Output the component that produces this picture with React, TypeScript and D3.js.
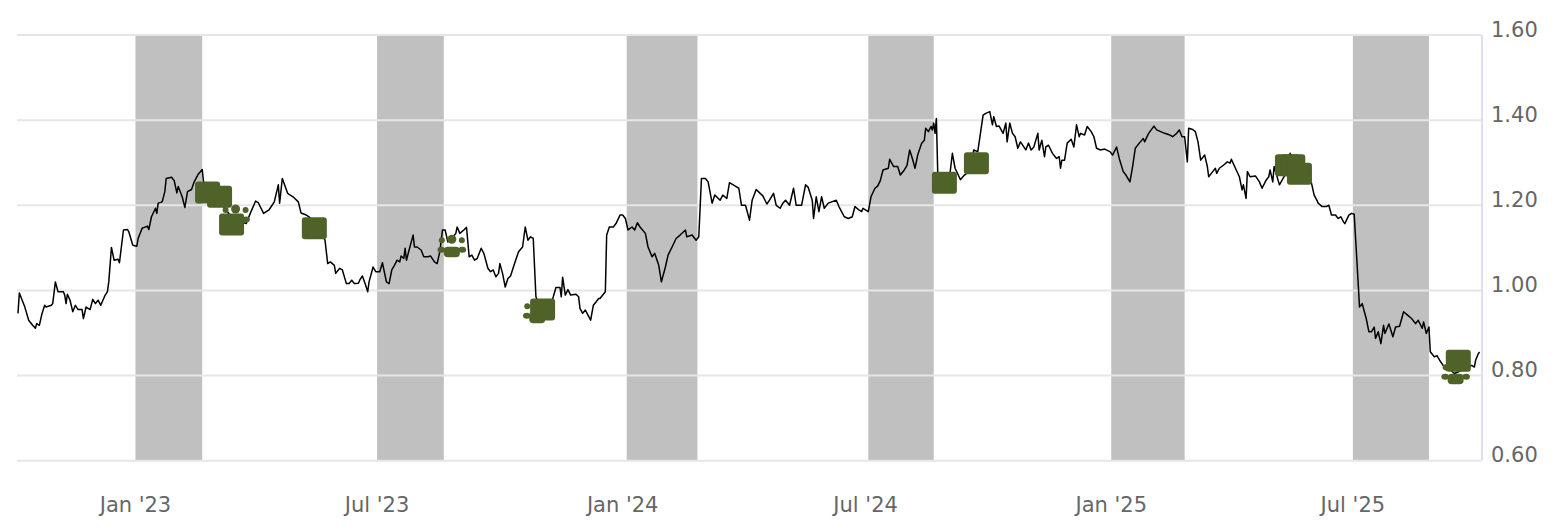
import React from "react";
import * as d3 from "d3";

// ---- Data ----
const priceData: [string, number][] = [
  ["2022-10-05", 0.946], ["2022-10-06", 0.994], ["2022-10-09", 0.970], ["2022-10-10", 0.962], ["2022-10-13", 0.930],
  ["2022-10-14", 0.926], ["2022-10-16", 0.918], ["2022-10-18", 0.911], ["2022-10-19", 0.922], ["2022-10-21", 0.918],
  ["2022-10-23", 0.946], ["2022-10-25", 0.965], ["2022-10-26", 0.961], ["2022-10-30", 0.965], ["2022-10-31", 0.969],
  ["2022-11-02", 1.020], ["2022-11-04", 0.997], ["2022-11-08", 0.997], ["2022-11-09", 0.989], ["2022-11-10", 0.969],
  ["2022-11-11", 0.991], ["2022-11-13", 0.977], ["2022-11-15", 0.950], ["2022-11-17", 0.965], ["2022-11-19", 0.955],
  ["2022-11-22", 0.955], ["2022-11-23", 0.934], ["2022-11-25", 0.961], ["2022-11-28", 0.955], ["2022-11-30", 0.979],
  ["2022-12-02", 0.969], ["2022-12-04", 0.977], ["2022-12-06", 0.965], ["2022-12-09", 0.987], ["2022-12-11", 0.997],
  ["2022-12-12", 1.020], ["2022-12-14", 1.101], ["2022-12-16", 1.071], ["2022-12-19", 1.073], ["2022-12-20", 1.065],
  ["2022-12-23", 1.142], ["2022-12-26", 1.143], ["2022-12-27", 1.138], ["2022-12-30", 1.106],
  ["2023-01-02", 1.104], ["2023-01-03", 1.122], ["2023-01-06", 1.146], ["2023-01-10", 1.151], ["2023-01-11", 1.143],
  ["2023-01-13", 1.173], ["2023-01-16", 1.193], ["2023-01-17", 1.181], ["2023-01-18", 1.205], ["2023-01-21", 1.208],
  ["2023-01-23", 1.232], ["2023-01-24", 1.263], ["2023-01-28", 1.266], ["2023-01-30", 1.258], ["2023-02-01", 1.229],
  ["2023-02-02", 1.244], ["2023-02-05", 1.220], ["2023-02-07", 1.195], ["2023-02-09", 1.232], ["2023-02-12", 1.237],
  ["2023-02-14", 1.255], ["2023-02-17", 1.273], ["2023-02-20", 1.284], ["2023-02-21", 1.255], ["2023-02-25", 1.240],
  ["2023-03-05", 1.210], ["2023-03-12", 1.180], ["2023-03-18", 1.165], ["2023-03-25", 1.157], ["2023-03-28", 1.181],
  ["2023-04-01", 1.210], ["2023-04-03", 1.206], ["2023-04-07", 1.181], ["2023-04-11", 1.189], ["2023-04-15", 1.208],
  ["2023-04-18", 1.248], ["2023-04-19", 1.205], ["2023-04-21", 1.263], ["2023-04-25", 1.228], ["2023-04-29", 1.220],
  ["2023-05-03", 1.208], ["2023-05-05", 1.182], ["2023-05-09", 1.177], ["2023-05-11", 1.173], ["2023-05-15", 1.160],
  ["2023-05-19", 1.140], ["2023-05-23", 1.118], ["2023-05-25", 1.063], ["2023-05-27", 1.067], ["2023-05-30", 1.059],
  ["2023-05-31", 1.040], ["2023-06-03", 1.052], ["2023-06-05", 1.048], ["2023-06-08", 1.016], ["2023-06-10", 1.016],
  ["2023-06-12", 1.024], ["2023-06-14", 1.016], ["2023-06-17", 1.017], ["2023-06-18", 1.024], ["2023-06-20", 1.034],
  ["2023-06-22", 1.016], ["2023-06-24", 0.997], ["2023-06-25", 1.020], ["2023-06-28", 1.055], ["2023-06-30", 1.044],
  ["2023-07-03", 1.044], ["2023-07-05", 1.065], ["2023-07-08", 1.020], ["2023-07-10", 1.016], ["2023-07-12", 1.048],
  ["2023-07-14", 1.059], ["2023-07-16", 1.071], ["2023-07-18", 1.067], ["2023-07-19", 1.081], ["2023-07-21", 1.075],
  ["2023-07-22", 1.099], ["2023-07-23", 1.071], ["2023-07-25", 1.095], ["2023-07-28", 1.130], ["2023-07-29", 1.102],
  ["2023-07-31", 1.102], ["2023-08-03", 1.095], ["2023-08-05", 1.079], ["2023-08-08", 1.079], ["2023-08-10", 1.081],
  ["2023-08-13", 1.067], ["2023-08-15", 1.063], ["2023-08-17", 1.091], ["2023-08-19", 1.142], ["2023-08-21", 1.142],
  ["2023-08-23", 1.114], ["2023-08-25", 1.120], ["2023-08-27", 1.126], ["2023-08-29", 1.134], ["2023-08-30", 1.149],
  ["2023-09-01", 1.134], ["2023-09-04", 1.142], ["2023-09-06", 1.148], ["2023-09-08", 1.079], ["2023-09-10", 1.083],
  ["2023-09-12", 1.071], ["2023-09-14", 1.075], ["2023-09-17", 1.099], ["2023-09-19", 1.087], ["2023-09-22", 1.052],
  ["2023-09-24", 1.044], ["2023-09-26", 1.048], ["2023-09-28", 1.032], ["2023-09-30", 1.040], ["2023-10-01", 1.063],
  ["2023-10-03", 1.040], ["2023-10-05", 1.008], ["2023-10-07", 1.028], ["2023-10-09", 1.034], ["2023-10-12", 1.063],
  ["2023-10-15", 1.091], ["2023-10-18", 1.102], ["2023-10-20", 1.149], ["2023-10-22", 1.118], ["2023-10-24", 1.126],
  ["2023-10-26", 1.122], ["2023-10-28", 0.985], ["2023-10-31", 0.960], ["2023-11-04", 0.955], ["2023-11-08", 0.965],
  ["2023-11-10", 0.985], ["2023-11-12", 1.007], ["2023-11-15", 1.007], ["2023-11-16", 0.985], ["2023-11-17", 1.031],
  ["2023-11-19", 0.989], ["2023-11-21", 1.002], ["2023-11-23", 0.989], ["2023-11-27", 0.991], ["2023-11-29", 0.985],
  ["2023-11-30", 0.958], ["2023-12-02", 0.946], ["2023-12-04", 0.954], ["2023-12-06", 0.942], ["2023-12-08", 0.930],
  ["2023-12-10", 0.965], ["2023-12-12", 0.973], ["2023-12-14", 0.981], ["2023-12-15", 0.981], ["2023-12-19", 0.997],
  ["2023-12-20", 1.130], ["2023-12-22", 1.149], ["2023-12-25", 1.149], ["2023-12-27", 1.157], ["2023-12-30", 1.177],
  ["2024-01-01", 1.177], ["2024-01-03", 1.169], ["2024-01-05", 1.142], ["2024-01-08", 1.149], ["2024-01-10", 1.142],
  ["2024-01-12", 1.159], ["2024-01-14", 1.149], ["2024-01-18", 1.134], ["2024-01-20", 1.102], ["2024-01-23", 1.079],
  ["2024-01-25", 1.087], ["2024-01-28", 1.059], ["2024-01-30", 1.020], ["2024-02-02", 1.055], ["2024-02-04", 1.083],
  ["2024-02-07", 1.102], ["2024-02-10", 1.122], ["2024-02-13", 1.130], ["2024-02-17", 1.142], ["2024-02-18", 1.126],
  ["2024-02-22", 1.130], ["2024-02-25", 1.118], ["2024-02-27", 1.126], ["2024-02-29", 1.263], ["2024-03-03", 1.263],
  ["2024-03-05", 1.255], ["2024-03-08", 1.205], ["2024-03-10", 1.224], ["2024-03-14", 1.212], ["2024-03-16", 1.224],
  ["2024-03-19", 1.216], ["2024-03-21", 1.253], ["2024-03-26", 1.244], ["2024-03-28", 1.240], ["2024-03-30", 1.200],
  ["2024-04-02", 1.200], ["2024-04-05", 1.165], ["2024-04-07", 1.212], ["2024-04-10", 1.237], ["2024-04-13", 1.228],
  ["2024-04-15", 1.222], ["2024-04-18", 1.203], ["2024-04-20", 1.212], ["2024-04-23", 1.228], ["2024-04-25", 1.200],
  ["2024-04-28", 1.193], ["2024-04-30", 1.205], ["2024-05-02", 1.212], ["2024-05-05", 1.200], ["2024-05-08", 1.240],
  ["2024-05-10", 1.200], ["2024-05-14", 1.200], ["2024-05-17", 1.248], ["2024-05-19", 1.242], ["2024-05-22", 1.212],
  ["2024-05-23", 1.169], ["2024-05-25", 1.220], ["2024-05-27", 1.185], ["2024-05-29", 1.220], ["2024-05-31", 1.193],
  ["2024-06-03", 1.205], ["2024-06-09", 1.212], ["2024-06-11", 1.197], ["2024-06-15", 1.173], ["2024-06-18", 1.169],
  ["2024-06-21", 1.173], ["2024-06-23", 1.197], ["2024-06-26", 1.189], ["2024-06-28", 1.185], ["2024-06-29", 1.193],
  ["2024-07-03", 1.185], ["2024-07-05", 1.220], ["2024-07-08", 1.240], ["2024-07-10", 1.245], ["2024-07-12", 1.258],
  ["2024-07-14", 1.283], ["2024-07-18", 1.287], ["2024-07-19", 1.308], ["2024-07-22", 1.291], ["2024-07-25", 1.291],
  ["2024-07-27", 1.271], ["2024-07-30", 1.283], ["2024-08-01", 1.294], ["2024-08-03", 1.330], ["2024-08-05", 1.310],
  ["2024-08-07", 1.287], ["2024-08-09", 1.318], ["2024-08-12", 1.346], ["2024-08-14", 1.353], ["2024-08-15", 1.381],
  ["2024-08-17", 1.373], ["2024-08-19", 1.385], ["2024-08-20", 1.377], ["2024-08-21", 1.393], ["2024-08-22", 1.369],
  ["2024-08-23", 1.404], ["2024-08-24", 1.279], ["2024-08-27", 1.240], ["2024-08-31", 1.250], ["2024-09-02", 1.270],
  ["2024-09-04", 1.322], ["2024-09-06", 1.287], ["2024-09-09", 1.267], ["2024-09-10", 1.260], ["2024-09-13", 1.271],
  ["2024-09-17", 1.280], ["2024-09-20", 1.330], ["2024-09-23", 1.326], ["2024-09-27", 1.412], ["2024-09-29", 1.416],
  ["2024-10-02", 1.420], ["2024-10-04", 1.389], ["2024-10-05", 1.408], ["2024-10-07", 1.385], ["2024-10-09", 1.386],
  ["2024-10-12", 1.369], ["2024-10-14", 1.393], ["2024-10-15", 1.349], ["2024-10-17", 1.393], ["2024-10-19", 1.369],
  ["2024-10-21", 1.361], ["2024-10-23", 1.334], ["2024-10-25", 1.349], ["2024-10-29", 1.330], ["2024-10-31", 1.346],
  ["2024-11-02", 1.330], ["2024-11-04", 1.337], ["2024-11-07", 1.369], ["2024-11-08", 1.330], ["2024-11-10", 1.353],
  ["2024-11-12", 1.314], ["2024-11-13", 1.337], ["2024-11-15", 1.341], ["2024-11-18", 1.322], ["2024-11-21", 1.310],
  ["2024-11-23", 1.314], ["2024-11-24", 1.287], ["2024-11-25", 1.306], ["2024-11-27", 1.306], ["2024-11-29", 1.346],
  ["2024-12-02", 1.355], ["2024-12-04", 1.337], ["2024-12-06", 1.389], ["2024-12-08", 1.361], ["2024-12-09", 1.369],
  ["2024-12-12", 1.365], ["2024-12-14", 1.385], ["2024-12-17", 1.373], ["2024-12-19", 1.361], ["2024-12-21", 1.334],
  ["2024-12-24", 1.330], ["2024-12-27", 1.332], ["2024-12-31", 1.326],
  ["2025-01-02", 1.318], ["2025-01-05", 1.337], ["2025-01-07", 1.310], ["2025-01-10", 1.279], ["2025-01-12", 1.271],
  ["2025-01-15", 1.255], ["2025-01-17", 1.291], ["2025-01-19", 1.334], ["2025-01-22", 1.346], ["2025-01-25", 1.357],
  ["2025-01-26", 1.349], ["2025-01-29", 1.369], ["2025-02-02", 1.386], ["2025-02-04", 1.377], ["2025-02-07", 1.373],
  ["2025-02-10", 1.369], ["2025-02-14", 1.365], ["2025-02-16", 1.361], ["2025-02-19", 1.369], ["2025-02-21", 1.377],
  ["2025-02-23", 1.361], ["2025-02-25", 1.361], ["2025-02-27", 1.302], ["2025-02-28", 1.381], ["2025-03-03", 1.378],
  ["2025-03-05", 1.373], ["2025-03-07", 1.349], ["2025-03-09", 1.306], ["2025-03-12", 1.318], ["2025-03-14", 1.291],
  ["2025-03-15", 1.267], ["2025-03-18", 1.279], ["2025-03-20", 1.287], ["2025-03-21", 1.275], ["2025-03-23", 1.287],
  ["2025-03-26", 1.294], ["2025-03-29", 1.302], ["2025-03-31", 1.299], ["2025-04-01", 1.308], ["2025-04-03", 1.294],
  ["2025-04-07", 1.267], ["2025-04-09", 1.236], ["2025-04-10", 1.248], ["2025-04-12", 1.216], ["2025-04-13", 1.279],
  ["2025-04-15", 1.267], ["2025-04-19", 1.269], ["2025-04-22", 1.255], ["2025-04-24", 1.240], ["2025-04-27", 1.259],
  ["2025-04-29", 1.267], ["2025-04-30", 1.283], ["2025-05-02", 1.255], ["2025-05-03", 1.291], ["2025-05-07", 1.248],
  ["2025-05-11", 1.270], ["2025-05-15", 1.322], ["2025-05-19", 1.290], ["2025-05-22", 1.270], ["2025-05-26", 1.265],
  ["2025-05-31", 1.252], ["2025-06-02", 1.224], ["2025-06-04", 1.212], ["2025-06-05", 1.205], ["2025-06-08", 1.197],
  ["2025-06-11", 1.197], ["2025-06-13", 1.200], ["2025-06-15", 1.177], ["2025-06-18", 1.177], ["2025-06-20", 1.169],
  ["2025-06-22", 1.173], ["2025-06-24", 1.161], ["2025-06-25", 1.157], ["2025-06-28", 1.177], ["2025-06-30", 1.181],
  ["2025-07-02", 1.179], ["2025-07-04", 1.071], ["2025-07-06", 0.961], ["2025-07-08", 0.969], ["2025-07-11", 0.934],
  ["2025-07-13", 0.903], ["2025-07-15", 0.903], ["2025-07-17", 0.914], ["2025-07-18", 0.887], ["2025-07-20", 0.903],
  ["2025-07-22", 0.875], ["2025-07-24", 0.918], ["2025-07-25", 0.899], ["2025-07-28", 0.921], ["2025-07-31", 0.891],
  ["2025-08-02", 0.914], ["2025-08-05", 0.916], ["2025-08-08", 0.950], ["2025-08-11", 0.942], ["2025-08-14", 0.934],
  ["2025-08-17", 0.922], ["2025-08-19", 0.930], ["2025-08-22", 0.911], ["2025-08-23", 0.926], ["2025-08-25", 0.899],
  ["2025-08-27", 0.914], ["2025-08-28", 0.856], ["2025-08-31", 0.844], ["2025-09-02", 0.847], ["2025-09-04", 0.836],
  ["2025-09-07", 0.822], ["2025-09-09", 0.813], ["2025-09-12", 0.813], ["2025-09-15", 0.805], ["2025-09-19", 0.810],
  ["2025-09-23", 0.815], ["2025-09-28", 0.824], ["2025-09-30", 0.820], ["2025-10-01", 0.836], ["2025-10-03", 0.852],
  ["2025-10-04", 0.855],
];

// square flag markers
const flagDates = ["2023-02-24", "2023-03-05", "2023-03-14", "2023-05-15", "2023-11-02", "2024-08-29", "2024-09-22", "2025-05-13", "2025-05-17", "2025-05-22", "2025-09-18"];
const flagValues = [1.230, 1.220, 1.155, 1.146, 0.955, 1.253, 1.299, 1.294, 1.294, 1.274, 0.835];

// group (people) markers
const groupDates = ["2023-03-17", "2023-08-26", "2023-10-29", "2025-09-16"];
const groupValues = [1.170, 1.099, 0.944, 0.801];

// shaded periods
const bandStarts = ["2023-01-01", "2023-07-01", "2024-01-04", "2024-07-03", "2025-01-01", "2025-07-01"];
const bandEnds = ["2023-02-20", "2023-08-20", "2024-02-26", "2024-08-21", "2025-02-25", "2025-08-27"];

const yTicks = [0.6, 0.8, 1.0, 1.2, 1.4, 1.6];
const xTickDates = ["2023-01-01", "2023-07-01", "2024-01-01", "2024-07-01", "2025-01-01", "2025-07-01"];
const xTickLabels = ["Jan '23", "Jul '23", "Jan '24", "Jul '24", "Jan '25", "Jul '25"];

const domainStart = "2022-10-05";
const domainEnd = "2025-10-05";

const W = 1568;
const H = 532;
const PLOT_LEFT = 18;
const PLOT_RIGHT = 1481;
const PLOT_TOP = 35;
const PLOT_BOTTOM = 460.7;
const FONT = "'DejaVu Sans', Verdana, sans-serif";
const GREEN = "#4f6228";

function GroupIcon({ cx, cy }: { cx: number; cy: number }) {
  return (
    <g fill={GREEN}>
      <circle cx={cx - 10} cy={cy - 8} r={3} />
      <circle cx={cx + 10} cy={cy - 8} r={3} />
      <ellipse cx={cx - 10.5} cy={cy + 1.5} rx={3.8} ry={3} />
      <ellipse cx={cx + 10.5} cy={cy + 1.5} rx={3.8} ry={3} />
      <circle cx={cx} cy={cy - 9} r={4.5} />
      <rect x={cx - 8} y={cy - 1.5} width={16} height={10.5} rx={4} ry={4} />
    </g>
  );
}

export default function App() {
  const parse = d3.timeParse("%Y-%m-%d");
  const x = d3
    .scaleTime()
    .domain([parse(domainStart) as Date, parse(domainEnd) as Date])
    .range([PLOT_LEFT, PLOT_RIGHT]);
  const y = d3.scaleLinear().domain([0.6, 1.6]).range([PLOT_BOTTOM, PLOT_TOP]);

  const series = priceData.map(([d, v]) => ({ date: parse(d) as Date, value: v }));
  const line = d3
    .line<{ date: Date; value: number }>()
    .x((d) => x(d.date))
    .y((d) => y(d.value));

  const fmt = d3.format(".2f");

  return (
    <svg
      width={W}
      height={H}
      viewBox={`0 0 ${W} ${H}`}
      style={{ position: "absolute", left: 0, top: 0, background: "#fff" }}
    >
      <rect x={0} y={0} width={W} height={H} fill="#ffffff" />
      {/* bands */}
      {bandStarts.map((s, i) => {
        const x0 = x(parse(s) as Date);
        const x1 = x(parse(bandEnds[i]) as Date);
        return (
          <rect key={"b" + i} x={x0} y={PLOT_TOP} width={x1 - x0} height={PLOT_BOTTOM - PLOT_TOP} fill="#c0c0c0" />
        );
      })}
      {/* gridlines */}
      {yTicks.map((t) => (
        <line
          key={"g" + t}
          x1={PLOT_LEFT - 1}
          x2={PLOT_RIGHT}
          y1={y(t)}
          y2={y(t)}
          stroke="#e6e6e6"
          strokeWidth={2}
        />
      ))}
      {/* right axis line */}
      <line x1={PLOT_RIGHT + 1} x2={PLOT_RIGHT + 1} y1={PLOT_TOP} y2={PLOT_BOTTOM} stroke="#ccd6eb" strokeWidth={1.5} />
      {/* y labels */}
      {yTicks.map((t) => (
        <text key={"yl" + t} x={1491} y={y(t) + 1.5} fill="#666666" fontSize={21} fontFamily={FONT}>
          {fmt(t)}
        </text>
      ))}
      {/* x labels */}
      {xTickDates.map((d, i) => (
        <text
          key={"xl" + d}
          x={x(parse(d) as Date)}
          y={512}
          fill="#666666"
          fontSize={21}
          fontFamily={FONT}
          textAnchor="middle"
        >
          {xTickLabels[i]}
        </text>
      ))}
      {/* price line */}
      <path d={line(series) || ""} fill="none" stroke="#000000" strokeWidth={1.5} strokeLinejoin="round" />
      {/* group markers */}
      {groupDates.map((d, i) => (
        <GroupIcon key={"gr" + i} cx={x(parse(d) as Date)} cy={y(groupValues[i])} />
      ))}
      {/* square flags */}
      {flagDates.map((d, i) => {
        const cx = x(parse(d) as Date);
        const cy = y(flagValues[i]);
        return (
          <rect key={"f" + i} x={cx - 12.5} y={cy - 11} width={25} height={22} rx={3} ry={3} fill={GREEN} />
        );
      })}
    </svg>
  );
}
